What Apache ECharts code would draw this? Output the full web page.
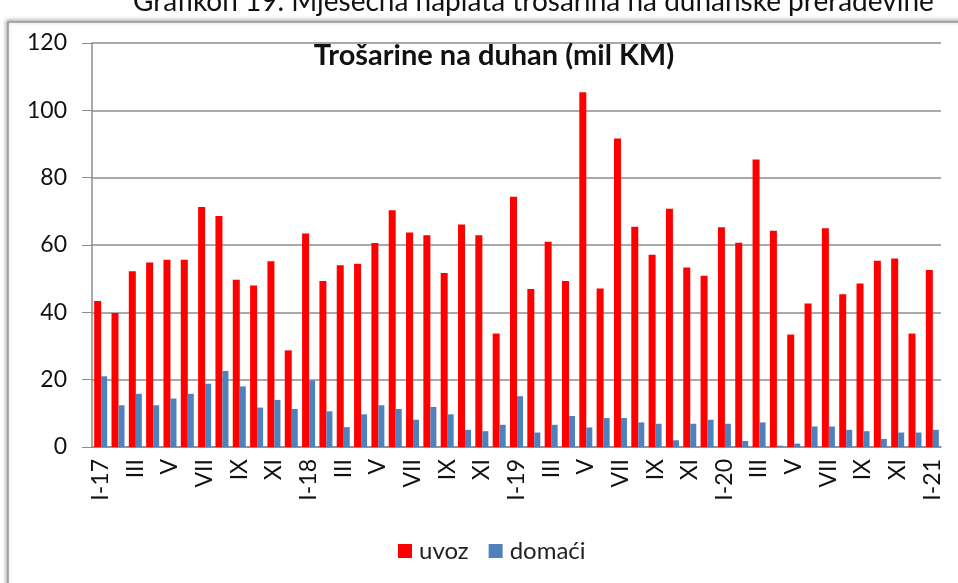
<!DOCTYPE html>
<html>
<head>
<meta charset="utf-8">
<script src="https://cdn.jsdelivr.net/npm/echarts@6/dist/echarts.min.js"></script>
<style>
    html, body { margin: 0; padding: 0; background: #fff; }
    #main { width: 958px; height: 583px; }
</style>
</head>
<body>
<div id="main"></div>
<script>
    // mjeseci I-17 .. I-21
    var months = ['I','II','III','IV','V','VI','VII','VIII','IX','X','XI','XII'];
    var categories = [];
    for (var y = 17; y <= 21; y++) {
        for (var m = 0; m < 12; m++) {
            if (y == 21 && m > 0) break;
            categories.push(m == 0 ? 'I-' + y : months[m]);
        }
    }
    var uvoz = [43.4, 39.8, 52.2, 54.8, 55.6, 55.6, 71.3, 68.6, 49.7, 48, 55.2, 28.7,
                63.4, 49.3, 54, 54.4, 60.6, 70.3, 63.7, 62.9, 51.7, 66.1, 62.9, 33.7,
                74.3, 46.9, 61, 49.3, 105.4, 47.1, 91.6, 65.4, 57.1, 70.8, 53.3, 50.9,
                65.3, 60.7, 85.4, 64.2, 33.4, 42.6, 65, 45.4, 48.6, 55.3, 56, 33.7,
                52.6];
    var domaci = [21, 12.4, 15.8, 12.4, 14.4, 15.8, 18.8, 22.6, 18, 11.7, 14, 11.3,
                  19.8, 10.6, 5.9, 9.7, 12.4, 11.3, 8.1, 11.9, 9.7, 5.1, 4.7, 6.6,
                  15.1, 4.3, 6.6, 9.2, 5.8, 8.6, 8.6, 7.3, 6.9, 2, 6.9, 8.1,
                  6.9, 1.8, 7.3, 0.4, 1, 6.1, 6.1, 5.1, 4.7, 2.4, 4.3, 4.3,
                  5.1];

    var myChart = echarts.init(document.getElementById('main'));
    var font = 'Lato, "Open Sans", sans-serif';
    var option = {
        backgroundColor: '#fff',
        animation: false,
        textStyle: { fontFamily: font },
        graphic: [
            {
                type: 'rect',
                shape: { x: 8, y: 22, width: 960, height: 580 },
                style: { fill: '#fff', stroke: '#9a9a9a', lineWidth: 1.5,
                         shadowBlur: 4, shadowColor: 'rgba(0,0,0,0.35)', shadowOffsetX: -1, shadowOffsetY: -1 },
                z: -10
            },
            {
                type: 'text',
                left: 133, top: -12,
                style: { text: 'Grafikon 19. Mjesečna naplata trošarina na duhanske prerađevine',
                         font: '28px ' + font, fill: '#111' },
                z: 10
            }
        ],
        title: {
            text: 'Trošarine na duhan (mil KM)',
            left: 489, top: 36, textAlign: 'center',
            textStyle: { fontSize: 29, fontWeight: 'bold', color: '#111', fontFamily: font }
        },
        legend: {
            data: ['uvoz', 'domaći'],
            top: 534,
            left: 393,
            icon: 'rect',
            itemWidth: 14, itemHeight: 14, itemGap: 20,
            textStyle: { fontSize: 24, color: '#222', fontFamily: font, padding: [0, 0, 0, 2] }
        },
        grid: { left: 92, right: 17, top: 43, bottom: 136 },
        xAxis: {
            type: 'category',
            data: categories,
            axisLine: { lineStyle: { color: '#8c8c8c', width: 1.5 } },
            axisTick: { interval: 0, length: 7, lineStyle: { color: '#8c8c8c' } },
            axisLabel: { interval: 1, rotate: 90, fontSize: 23, color: '#111', margin: 12, fontFamily: font }
        },
        yAxis: {
            type: 'value',
            min: 0, max: 120, interval: 20,
            axisLine: { show: true, lineStyle: { color: '#8c8c8c', width: 1.5 } },
            axisTick: { show: true, length: 10, lineStyle: { color: '#8c8c8c' } },
            axisLabel: { fontSize: 23, color: '#111', margin: 25, fontFamily: font },
            splitLine: { lineStyle: { color: '#8c8c8c', width: 1.5 } }
        },
        series: [
            { name: 'uvoz', type: 'bar', data: uvoz, barWidth: 7, barGap: '0%',
              itemStyle: { color: '#ff0000' } },
            { name: 'domaći', type: 'bar', data: domaci, barWidth: 6,
              itemStyle: { color: '#4f81bd' } }
        ]
    };
    myChart.setOption(option);
</script>
</body>
</html>
